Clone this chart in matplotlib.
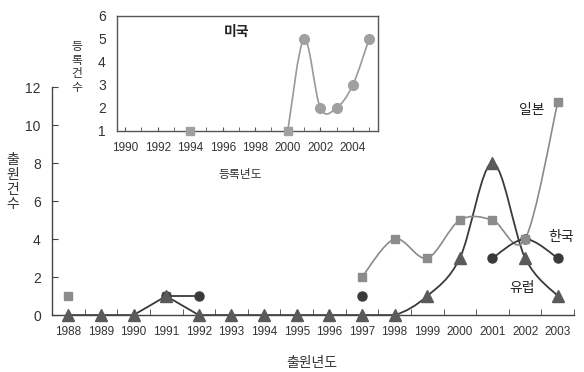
import numpy as np
import matplotlib
matplotlib.use("Agg")
import matplotlib.pyplot as plt
from matplotlib.path import Path
from matplotlib.patches import PathPatch

plt.rcParams['font.family'] = ['Noto Sans CJK KR', 'DejaVu Sans']
NUM_FONT = ['Liberation Sans Narrow', 'Liberation Sans']

# main chart: applications by year
years = ['1988', '1989', '1990', '1991', '1992', '1993', '1994', '1995',
         '1996', '1997', '1998', '1999', '2000', '2001', '2002', '2003']

japan_single_idx = [0, 3]
japan_single_val = [1, 1]
japan_idx = [9, 10, 11, 12, 13, 14, 15]
japan_val = [2, 4, 3, 5, 5, 4, 11.2]

europe_idx = list(range(16))
europe_val = [0, 0, 0, 1, 0, 0, 0, 0, 0, 0, 0, 1, 3, 8, 3, 1]

korea_a_idx = [3, 4]
korea_a_val = [1, 1]
korea_single_idx = [9]
korea_single_val = [1]
korea_b_idx = [13, 14, 15]
korea_b_val = [3, 4, 3]

# inset: US registrations
us_single_x = [1994]
us_single_y = [1]
us_x = [2000, 2001, 2002, 2003, 2004, 2005]
us_y = [1, 5, 2, 2, 3, 5]


def smooth_path(x, y, straight_until=0):
    # Catmull-Rom style bezier through the data points,
    # plain line segments before index straight_until
    x = np.asarray(x, float)
    y = np.asarray(y, float)
    verts = [(x[0], y[0])]
    codes = [Path.MOVETO]
    n = len(x)
    for i in range(n - 1):
        if i < straight_until:
            verts.append((x[i + 1], y[i + 1]))
            codes.append(Path.LINETO)
            continue
        x0, y0 = (x[i - 1], y[i - 1]) if i > 0 else (x[i], y[i])
        x3, y3 = (x[i + 2], y[i + 2]) if i + 2 < n else (x[i + 1], y[i + 1])
        c1 = (x[i] + (x[i + 1] - x0) / 6, y[i] + (y[i + 1] - y0) / 6)
        c2 = (x[i + 1] - (x3 - x[i]) / 6, y[i + 1] - (y3 - y[i]) / 6)
        verts += [c1, c2, (x[i + 1], y[i + 1])]
        codes += [Path.CURVE4] * 3
    return Path(verts, codes)


fig = plt.figure(figsize=(5.84, 3.72), dpi=100)
ax = fig.add_axes([0.089, 0.153, 0.894, 0.613])

dark = '#3a3a3a'
mid = '#8a8a8a'

# europe
ax.add_patch(PathPatch(smooth_path(europe_idx, europe_val, straight_until=10),
                       fill=False, edgecolor=dark, lw=1.3, zorder=2,
                       clip_on=False))
ax.plot(europe_idx, europe_val, ls='none', marker='^', ms=8,
        color='#5a5a5a', zorder=4, clip_on=False)

# japan
ax.add_patch(PathPatch(smooth_path(japan_idx, japan_val), fill=False,
                       edgecolor=mid, lw=1.2, zorder=2))
ax.plot(japan_idx, japan_val, ls='none', marker='s', ms=5.5,
        color='#8c8c8c', zorder=5)
ax.plot(japan_single_idx, japan_single_val, ls='none', marker='s', ms=6,
        color='#8c8c8c', zorder=3)

# korea
ax.plot(korea_a_idx, korea_a_val, color=dark, lw=1.3, marker='o', ms=6.5,
        zorder=3)
ax.plot(korea_single_idx, korea_single_val, ls='none', marker='o', ms=6.5,
        color=dark, zorder=3)
ax.add_patch(PathPatch(smooth_path(korea_b_idx, korea_b_val), fill=False,
                       edgecolor=dark, lw=1.3, zorder=2))
ax.plot(korea_b_idx, korea_b_val, ls='none', marker='o', ms=6.5,
        color=dark, zorder=3)

ax.set_xlim(-0.5, 15.5)
ax.set_ylim(0, 12)
ax.set_xticks(range(16))
ax.set_xticklabels(years, family=NUM_FONT, fontsize=8.5, color='#333333')
ax.set_xticks(np.arange(-0.5, 16, 1), minor=True)
ax.tick_params(axis='x', which='major', length=0, pad=8)
ax.tick_params(axis='x', which='minor', direction='in', length=4,
               color='#444444')
ax.set_yticks(range(0, 13, 2))
ax.set_yticklabels([str(v) for v in range(0, 13, 2)], family=NUM_FONT,
                   fontsize=10, color='#333333')
ax.tick_params(axis='y', direction='in', length=4, color='#444444', pad=8)
for s in ['top', 'right']:
    ax.spines[s].set_visible(False)
for s in ['left', 'bottom']:
    ax.spines[s].set_color('#444444')
    ax.spines[s].set_linewidth(1.0)

fig.text(0.021, 0.51, '\n'.join('출원건수'), fontsize=10, color='#333333',
         ha='center', va='center', linespacing=1.05)
fig.text(0.534, 0.025, '출원년도', fontsize=10, color='#333333',
         ha='center', va='center')

ax.text(14.2, 10.8, '일본', fontsize=10, color='#222222', ha='center',
        va='center')
ax.text(15.1, 4.1, '한국', fontsize=10, color='#222222', ha='center',
        va='center')
ax.text(13.9, 1.4, '유럽', fontsize=10, color='#222222', ha='center',
        va='center')

# inset
ins = fig.add_axes([0.2003, 0.648, 0.447, 0.309])
ins.set_facecolor('white')
ins.add_patch(PathPatch(smooth_path(us_x, us_y), fill=False,
                        edgecolor='#999999', lw=1.2, zorder=2))
ins.plot(us_x[1:], us_y[1:], ls='none', marker='o', ms=7,
         color='#a0a0a0', zorder=3)
ins.plot(us_x[:1], us_y[:1], ls='none', marker='s', ms=6,
         color='#a0a0a0', zorder=3, clip_on=False)
ins.plot(us_single_x, us_single_y, ls='none', marker='s', ms=6,
         color='#a0a0a0', zorder=3, clip_on=False)
ins.set_xlim(1989.5, 2005.55)
ins.set_ylim(1, 6)
ins.set_xticks(range(1990, 2005, 2))
ins.set_xticklabels([str(v) for v in range(1990, 2005, 2)],
                    family=NUM_FONT, fontsize=8.5, color='#333333')
ins.set_xticks(range(1990, 2006), minor=True)
ins.tick_params(axis='x', which='both', direction='in', length=3,
                color='#555555', pad=8)
ins.set_yticks(range(1, 7))
ins.set_yticklabels([str(v) for v in range(1, 7)], family=NUM_FONT,
                    fontsize=10, color='#333333')
ins.tick_params(axis='y', length=0, pad=8)
for s in ins.spines.values():
    s.set_color('#555555')
    s.set_linewidth(1.0)
ins.text(0.46, 0.86, '미국', transform=ins.transAxes, fontsize=10,
         fontweight='bold', ha='center', va='center', color='#222222')

fig.text(0.132, 0.82, '\n'.join('등록건수'), fontsize=8.5, color='#333333',
         ha='center', va='center', linespacing=1.05)
fig.text(0.411, 0.53, '등록년도', fontsize=8.5, color='#333333',
         ha='center', va='center')

fig.savefig('out.png', dpi=100)
